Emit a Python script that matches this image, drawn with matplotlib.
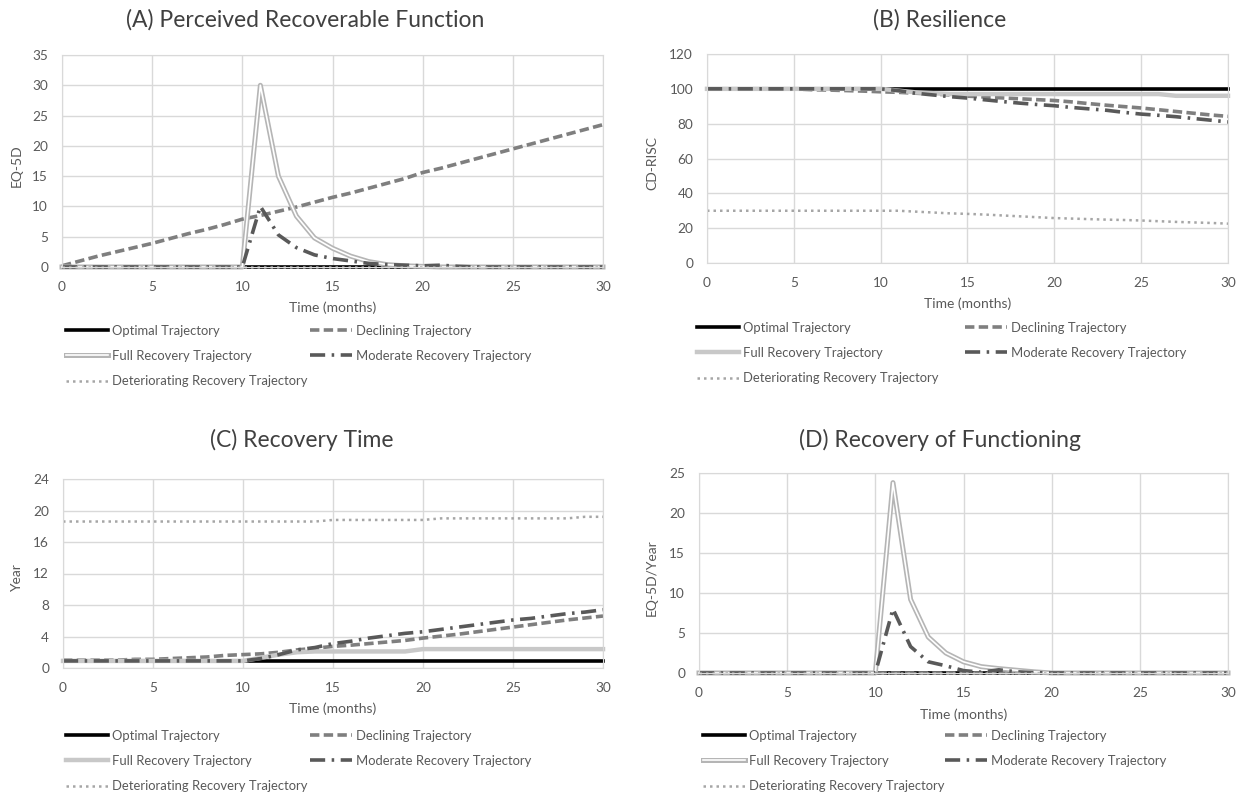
import matplotlib
matplotlib.use("Agg")
import matplotlib.pyplot as plt
import matplotlib.patheffects as pe

plt.rcParams['font.family'] = ['Lato', 'DejaVu Sans']

W, H = 1249, 800

# ---------------- data ----------------
months = list(range(31))

labels = ["Optimal Trajectory", "Declining Trajectory", "Full Recovery Trajectory",
          "Moderate Recovery Trajectory", "Deteriorating Recovery Trajectory"]

# (A) Perceived Recoverable Function, EQ-5D
a_optimal = [0.0] * 31
a_declining = [0.2, 1.0, 1.8, 2.5, 3.2, 3.9, 4.7, 5.5, 6.2, 7.0, 7.9, 8.5, 9.2, 9.9, 10.7,
               11.5, 12.2, 13.0, 13.8, 14.6, 15.6, 16.3, 17.1, 17.9, 18.7, 19.5, 20.3, 21.1,
               21.9, 22.7, 23.5]
a_full = [0, 0, 0, 0, 0, 0, 0, 0, 0, 0, 0, 30.0, 15.0, 8.4, 4.8, 3.1, 1.8, 0.9, 0.4, 0.2,
          0.1, 0, 0, 0, 0, 0, 0, 0, 0, 0, 0]
a_moderate = [0, 0, 0, 0, 0, 0, 0, 0, 0, 0, 0, 10.0, 5.3, 3.2, 2.0, 1.4, 1.0, 0.6, 0.4, 0.3,
              0.2, 0.3, 0.1, 0, 0, 0, 0, 0, 0, 0, 0]
a_deteriorating = [0.0] * 31

# (B) Resilience, CD-RISC
b_optimal = [100.0] * 31
b_declining = [100, 100, 100, 100, 100, 100, 99.5, 99.3, 99.0, 98.7, 98.3, 98.0, 97.5, 97.0,
               96.5, 95.8, 95.3, 94.8, 94.3, 93.8, 93.3, 92.5, 91.5, 90.6, 89.8, 89.0, 88.0,
               87.0, 86.0, 85.0, 84.2]
b_full = [100, 100, 100, 100, 100, 100, 100, 100, 100, 100, 100, 99.0, 98.0, 97.5, 97.0,
          97.0, 97.0, 97.0, 97.0, 97.0, 97.0, 97.0, 97.0, 97.0, 97.0, 97.0, 97.0, 96.0, 96.0,
          96.0, 96.0]
b_moderate = [100, 100, 100, 100, 100, 100, 100, 100, 100, 100, 100, 99.0, 97.5, 96.5, 95.5,
              94.7, 93.7, 92.7, 91.8, 91.0, 90.3, 89.3, 88.5, 87.7, 86.5, 85.5, 84.8, 84.0,
              83.0, 82.0, 81.0]
b_deteriorating = [30, 30, 30, 30, 30, 30, 30, 30, 30, 30, 30, 30, 29.5, 29.0, 28.5, 28.2,
                   27.8, 27.3, 26.8, 26.3, 25.8, 25.5, 25.2, 24.9, 24.7, 24.4, 24.0, 23.6,
                   23.3, 23.0, 22.6]

# (C) Recovery Time, Year
c_optimal = [0.9] * 31
c_declining = [1.0, 1.0, 1.0, 1.0, 1.1, 1.1, 1.2, 1.3, 1.4, 1.6, 1.7, 1.8, 2.0, 2.3, 2.5,
               2.75, 2.9, 3.1, 3.3, 3.5, 3.8, 4.05, 4.3, 4.6, 4.9, 5.2, 5.5, 5.8, 6.1, 6.35,
               6.6]
c_full = [0.9, 0.9, 0.9, 0.9, 0.9, 0.9, 0.9, 0.9, 0.9, 0.9, 0.9, 1.3, 1.7, 2.0, 2.1, 2.1,
          2.1, 2.1, 2.1, 2.1, 2.4, 2.4, 2.4, 2.4, 2.4, 2.4, 2.4, 2.4, 2.4, 2.4, 2.4]
c_moderate = [0.9, 0.9, 0.9, 0.9, 0.9, 0.9, 0.9, 0.9, 0.9, 0.9, 0.9, 1.2, 1.7, 2.3, 2.6,
              3.1, 3.4, 3.8, 4.1, 4.4, 4.6, 4.9, 5.2, 5.5, 5.8, 6.1, 6.3, 6.6, 6.9, 7.1, 7.4]
c_deteriorating = [18.6, 18.6, 18.6, 18.6, 18.6, 18.6, 18.6, 18.6, 18.6, 18.6, 18.6, 18.6,
                   18.6, 18.6, 18.6, 18.8, 18.8, 18.8, 18.8, 18.8, 18.8, 19.0, 19.0, 19.0,
                   19.0, 19.0, 19.0, 19.0, 19.0, 19.2, 19.2]

# (D) Recovery of Functioning, EQ-5D/Year
d_optimal = [0.0] * 31
d_declining = [0.0] * 31
d_full = [0, 0, 0, 0, 0, 0, 0, 0, 0, 0, 0, 23.8, 9.2, 4.5, 2.5, 1.4, 0.8, 0.55, 0.35, 0.15,
          0, 0, 0, 0, 0, 0, 0, 0, 0, 0, 0]
d_moderate = [0, 0, 0, 0, 0, 0, 0, 0, 0, 0, 0, 8.0, 3.3, 1.4, 0.9, 0.3, 0.1, 0.4, 0.15, 0.05,
              0, 0, 0, 0, 0, 0, 0, 0, 0, 0, 0]
d_deteriorating = [0.0] * 31

titles = ["(A) Perceived Recoverable Function", "(B) Resilience",
          "(C) Recovery Time", "(D) Recovery of Functioning"]
ylabels = ["EQ-5D", "CD-RISC", "Year", "EQ-5D/Year"]
yticks = [[0, 5, 10, 15, 20, 25, 30, 35], [0, 20, 40, 60, 80, 100, 120],
          [0, 4, 8, 12, 16, 20, 24], [0, 5, 10, 15, 20, 25]]
xticks = [0, 5, 10, 15, 20, 25, 30]

# ---------------- layout (pixels) ----------------
# left, top, right, bottom of each plot area
boxes = [(62, 55, 603, 267), (707, 54, 1228, 263), (63, 479, 603, 668), (699, 473, 1228, 673)]
title_pos = [(305, 20), (940, 20), (302, 440), (940, 440)]
ylabel_x = [17, 652, 17, 652]
xlabel_y = [308, 304, 709, 715]
legend_x = [(66, 310), (697, 965), (66, 310), (703, 945)]
legend_y = [329, 326, 734, 734]

TXT = '#595959'
GRID = '#d9d9d9'


def fx(px):
    return px / W


def fy(py):
    return 1 - py / H


fig = plt.figure(figsize=(W / 100, H / 100), dpi=100)

series = [
    (a_optimal, a_declining, a_full, a_moderate, a_deteriorating),
    (b_optimal, b_declining, b_full, b_moderate, b_deteriorating),
    (c_optimal, c_declining, c_full, c_moderate, c_deteriorating),
    (d_optimal, d_declining, d_full, d_moderate, d_deteriorating),
]

for i in range(4):
    l, t, r, b = boxes[i]
    ax = fig.add_axes([fx(l), fy(b), (r - l) / W, (b - t) / H])
    opt, dec, full, mod, det = series[i]

    h_opt, = ax.plot(months, opt, color='black', lw=2.6, clip_on=False)
    h_dec, = ax.plot(months, dec, color='#7f7f7f', lw=2.6, dashes=(2.6, 1.2), clip_on=False)
    if i in (0, 3):
        # double line look
        h_full, = ax.plot(months, full, color='white', lw=1.2, clip_on=False,
                          path_effects=[pe.Stroke(linewidth=3.6, foreground='#b5b5b5'), pe.Normal()])
    else:
        h_full, = ax.plot(months, full, color='#c8c8c8', lw=3.2, clip_on=False)
    h_mod, = ax.plot(months, mod, color='#595959', lw=2.6, dashes=(4.2, 1.8, 0.7, 1.8),
                     clip_on=False)
    h_det, = ax.plot(months, det, color='#a6a6a6', lw=1.8, dashes=(1, 1.6), clip_on=False)

    ax.set_xlim(0, 30)
    ax.set_ylim(yticks[i][0], yticks[i][-1])
    ax.set_xticks(xticks)
    ax.set_yticks(yticks[i])
    ax.grid(True, color=GRID, lw=1)
    ax.set_axisbelow(True)
    for s in ax.spines.values():
        s.set_color(GRID)
    ax.tick_params(length=0, labelsize=9.8, labelcolor=TXT, pad=10)

    fig.text(fx(title_pos[i][0]), fy(title_pos[i][1]), titles[i], fontsize=16.5,
             color='#404040', ha='center', va='center')
    fig.text(fx(ylabel_x[i]), fy((t + b) / 2 + 5), ylabels[i], fontsize=10, color=TXT,
             rotation=90, ha='center', va='center')
    fig.text(fx((l + r) / 2), fy(xlabel_y[i]), "Time (months)", fontsize=10, color=TXT,
             ha='center', va='center')

    kw = dict(loc='upper left', frameon=False, borderaxespad=0, borderpad=0,
              handlelength=3.2, handletextpad=0.3, labelspacing=1.0, fontsize=9.4,
              labelcolor=TXT, bbox_transform=fig.transFigure)
    top = legend_y[i] - 4
    leg1 = ax.legend([h_opt, h_full, h_det], [labels[0], labels[2], labels[4]],
                     bbox_to_anchor=(fx(legend_x[i][0]), fy(top)), **kw)
    ax.add_artist(leg1)
    ax.legend([h_dec, h_mod], [labels[1], labels[3]],
              bbox_to_anchor=(fx(legend_x[i][1]), fy(top)), **kw)

fig.savefig("out.png", dpi=100)
